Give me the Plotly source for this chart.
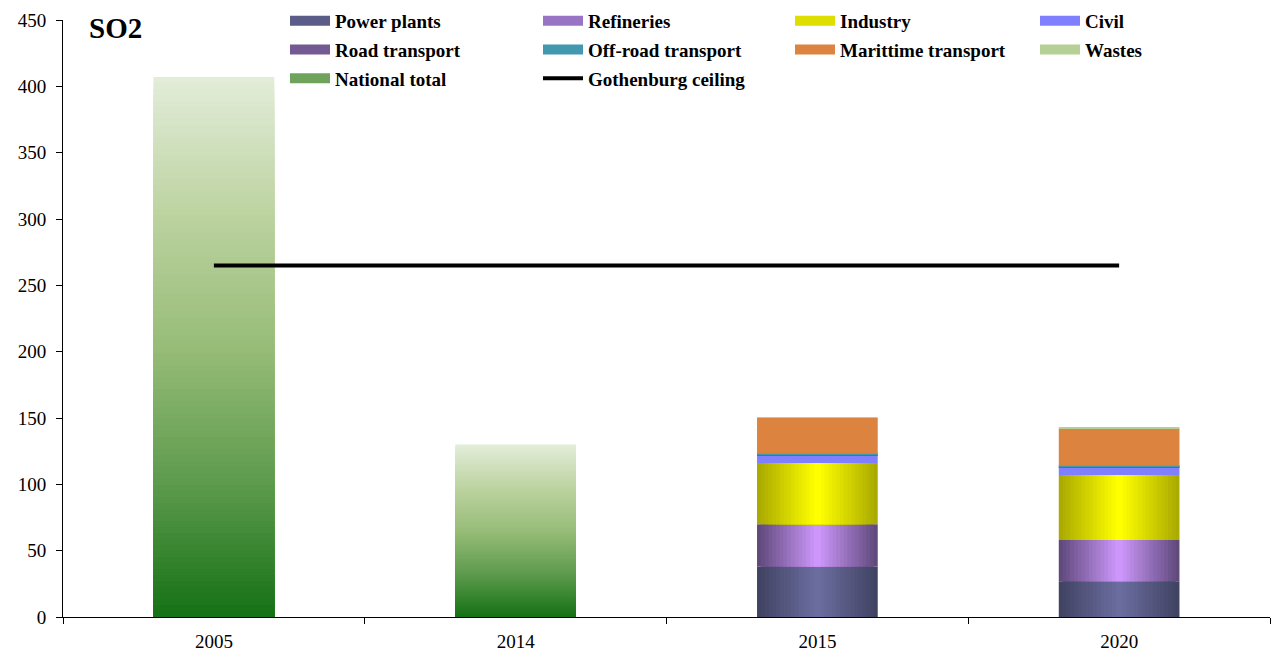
import plotly.graph_objects as go

# ---------------- data ----------------
categories = ["2005", "2014", "2015", "2020"]
total_years = ["2005", "2014"]
national_total = [407, 130]

scen_years = ["2015", "2020"]
power_plants = [38, 27]
refineries = [32, 31]
industry = [46, 49]
civil = [6, 6]
road_transport = [0.3, 0.3]
offroad_transport = [0.7, 0.7]
maritime_transport = [27, 28]
wastes = [0.6, 0.6]

gothenburg_ceiling = [265, 265, 265, 265]

# ---------------- style ----------------
BAR_W = 0.4
FONT = "Liberation Serif"
L, R, T, B = 63, 3, 20, 36
W, H = 1273, 653
PW, PH = W - L - R, H - T - B


def hex2rgb(h):
    h = h.lstrip("#")
    return tuple(int(h[i:i + 2], 16) for i in (0, 2, 4))


def lerp(c1, c2, t):
    a, b = hex2rgb(c1), hex2rgb(c2)
    return "rgb(%d,%d,%d)" % tuple(round(a[i] + (b[i] - a[i]) * t) for i in range(3))


def multi_stop(stops, t):
    for (p0, c0), (p1, c1) in zip(stops[:-1], stops[1:]):
        if p0 <= t <= p1:
            return lerp(c0, c1, (t - p0) / (p1 - p0) if p1 > p0 else 0)
    return lerp(stops[-1][1], stops[-1][1], 0)


fig = go.Figure()

# (name, values, colour(s), legend swatch colour, legend id)
series = [
    ("Power plants", power_plants, ("#414363", "#6b6d9f"), "#5b5d88", "legend"),
    ("Refineries", refineries, ("#604a7c", "#cc96fa"), "#9a74c4", "legend2"),
    ("Industry", industry, ("#aaaa00", "#ffff00"), "#dede00", "legend3"),
    ("Civil", civil, "#8080ff", "#8080ff", "legend4"),
    ("Road transport", road_transport, "#745a92", "#745a92", "legend"),
    ("Off-road transport", offroad_transport, "#4198af", "#4198af", "legend2"),
    ("Marittime transport", maritime_transport, "#dc843f", "#dc843f", "legend3"),
    ("Wastes", wastes, "#b5cf95", "#b5cf95", "legend4"),
]

base = [0.0 for _ in scen_years]
N = 16
for name, vals, col, _, _ in series:
    if isinstance(col, tuple):
        edge, center = col
        for k in range(N):
            t = k / (N - 1)
            w = BAR_W * (1 - k / N)
            fig.add_trace(go.Bar(
                x=scen_years, y=vals, base=list(base), width=w,
                marker=dict(color=lerp(edge, center, t), line=dict(width=0)),
                name=name, showlegend=False,
            ))
    else:
        fig.add_trace(go.Bar(
            x=scen_years, y=vals, base=list(base), width=BAR_W,
            marker=dict(color=col, line=dict(width=0)),
            name=name, showlegend=False,
        ))
    base = [b + v for b, v in zip(base, vals)]

# National total with vertical gradient
stops = [(0.0, "#137013"), (0.25, "#5c9a4c"), (0.5, "#96bc77"),
         (0.75, "#bcd3a0"), (1.0, "#e2ecd8")]
M = 90
for k in range(M):
    f = 1 - k / M
    fig.add_trace(go.Bar(
        x=total_years, y=[v * f for v in national_total], base=[0, 0],
        width=BAR_W, marker=dict(color=multi_stop(stops, f), line=dict(width=0)),
        name="National total", showlegend=False,
    ))

# Gothenburg ceiling
fig.add_trace(go.Scatter(
    x=categories, y=gothenburg_ceiling, mode="lines",
    line=dict(color="black", width=4),
    name="Gothenburg ceiling", showlegend=False,
))

# legend entries (swatches as wide thick lines)
legend_items = [(s[0], s[3], s[4], 10) for s in series]
legend_items += [("National total", "#6fa35c", "legend", 10),
                 ("Gothenburg ceiling", "black", "legend2", 4)]
for i, (name, col, lg, lw) in enumerate(legend_items):
    fig.add_trace(go.Scatter(
        x=[None], y=[None], mode="lines", name=name,
        line=dict(color=col, width=lw), legend=lg,
        legendgroup=name, showlegend=True,
    ))

fig.add_annotation(
    text="<b>SO2</b>", xref="paper", yref="paper", x=(87 - L) / PW, y=(H - B - 28) / PH,
    xanchor="left", yanchor="middle", showarrow=False,
    font=dict(family=FONT, size=29, color="black"),
)

leg_common = dict(
    orientation="v", xanchor="left", yanchor="top",
    bgcolor="rgba(0,0,0,0)", traceorder="grouped", tracegroupgap=1,
    font=dict(family=FONT, size=19, color="black", weight="bold"),
    itemwidth=40,
)
col_px = [285, 538, 790, 1035]
legend_top_px = 2
ly = (H - B - legend_top_px) / PH

fig.update_layout(
    width=W, height=H,
    margin=dict(l=L, r=R, t=T, b=B, autoexpand=False),
    barmode="overlay",
    plot_bgcolor="white", paper_bgcolor="white",
    font=dict(family=FONT, color="black"),
    showlegend=True,
    legend=dict(x=(col_px[0] - L) / PW, y=ly, **leg_common),
    legend2=dict(x=(col_px[1] - L) / PW, y=ly, **leg_common),
    legend3=dict(x=(col_px[2] - L) / PW, y=ly, **leg_common),
    legend4=dict(x=(col_px[3] - L) / PW, y=ly, **leg_common),
    xaxis=dict(
        type="category", categoryorder="array", categoryarray=categories,
        showline=True, linecolor="black", linewidth=1,
        ticks="outside", tickson="boundaries", ticklen=6, tickcolor="black",
        tickfont=dict(family=FONT, size=19, color="black"),
        ticklabelstandoff=7,
        showgrid=False, zeroline=False, automargin=False,
    ),
    yaxis=dict(
        range=[0, 450], dtick=50, tick0=0,
        showline=True, linecolor="black", linewidth=1,
        ticks="outside", ticklen=6, tickcolor="black",
        tickfont=dict(family=FONT, size=19, color="black"),
        ticklabelstandoff=6,
        showgrid=False, zeroline=False, automargin=False,
    ),
)

fig.write_html(
    "out.html",
    config={"displayModeBar": False},
    post_script="document.body.style.margin='0';"
                "Plotly.relayout('{plot_id}', {width: 1273, height: 653});",
)
